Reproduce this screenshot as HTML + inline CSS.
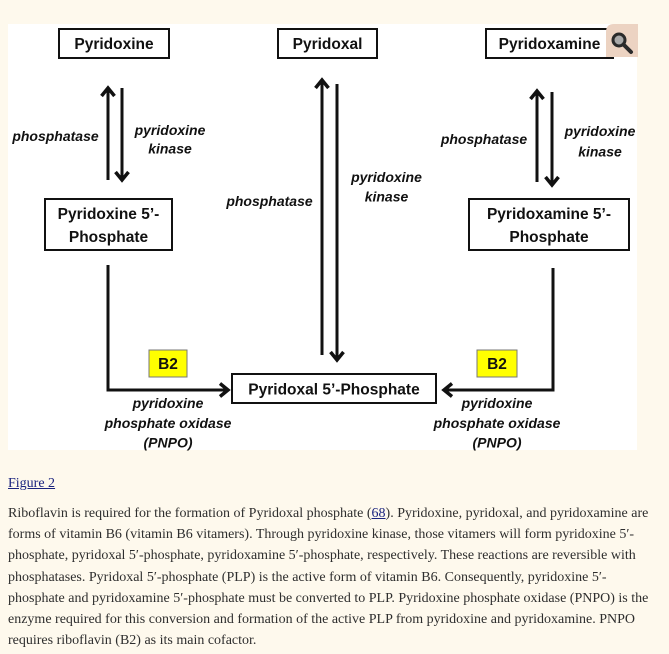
<!DOCTYPE html>
<html>
<head>
<meta charset="utf-8">
<style>
  html, body { margin:0; padding:0; }
  body { width:669px; height:654px; background:#fef9ed; position:relative; overflow:hidden; font-family:"Liberation Serif", serif; }
  svg { position:absolute; left:0; top:0; }
  .cap { position:absolute; left:8px; top:473px; font-size:14px; line-height:21px; color:#1a237e; text-decoration:underline; }
  .para { position:absolute; left:8px; top:503px; font-size:14px; line-height:21.2px; color:#2e2e2e; white-space:nowrap; }
  .para a { color:#1a237e; text-decoration:underline; }
</style>
</head>
<body>
<svg width="669" height="460" viewBox="0 0 669 460" xmlns="http://www.w3.org/2000/svg">
  <rect x="8" y="24" width="629" height="426" fill="#ffffff"/>
  <g fill="none" stroke="#111" stroke-width="2">
    <rect x="59" y="29" width="110" height="29"/>
    <rect x="278" y="29" width="99" height="29"/>
    <rect x="486" y="29" width="127" height="29"/>
    <rect x="45" y="199" width="127" height="51"/>
    <rect x="469" y="199" width="160" height="51"/>
    <rect x="232" y="374" width="204" height="29"/>
  </g>
  <g fill="none" stroke="#111" stroke-width="3" stroke-linejoin="miter">
    <line x1="108" y1="89" x2="108" y2="180"/>
    <line x1="122" y1="88" x2="122" y2="179"/>
    <line x1="322" y1="81" x2="322" y2="355"/>
    <line x1="337" y1="84" x2="337" y2="359"/>
    <line x1="537" y1="92" x2="537" y2="182"/>
    <line x1="552" y1="92" x2="552" y2="184"/>
    <polyline points="108,265 108,390 228,390"/>
    <polyline points="553,268 553,390 444,390"/>
  </g>
  <g fill="none" stroke="#111" stroke-width="3.5" stroke-linejoin="miter">
    <polyline points="101.5,96 108,88 114.5,96"/>
    <polyline points="115.5,172 122,180 128.5,172"/>
    <polyline points="315.5,88 322,80 328.5,88"/>
    <polyline points="330.5,352 337,360 343.5,352"/>
    <polyline points="530.5,99 537,91 543.5,99"/>
    <polyline points="545.5,177 552,185 558.5,177"/>
    <polyline points="220,383.5 228,390 220,396.5"/>
    <polyline points="452,383.5 444,390 452,396.5"/>
  </g>
  <rect x="149" y="350" width="38" height="27" fill="#ffff00" stroke="#777" stroke-width="1"/>
  <rect x="477" y="350" width="40" height="27" fill="#ffff00" stroke="#777" stroke-width="1"/>
  <g font-family="Liberation Sans, sans-serif" font-weight="bold" font-size="15.5" fill="#111" text-anchor="middle">
    <text x="114" y="49">Pyridoxine</text>
    <text x="327.5" y="49">Pyridoxal</text>
    <text x="549.5" y="49">Pyridoxamine</text>
    <text x="108.5" y="219">Pyridoxine 5’-</text>
    <text x="108.5" y="242">Phosphate</text>
    <text x="549" y="219">Pyridoxamine 5’-</text>
    <text x="549" y="242">Phosphate</text>
    <text x="334" y="394.5">Pyridoxal 5’-Phosphate</text>
    <text x="168" y="369" font-size="15.5">B2</text>
    <text x="497" y="369" font-size="15.5">B2</text>
  </g>
  <g font-family="Liberation Sans, sans-serif" font-weight="bold" font-style="italic" font-size="14" fill="#111" text-anchor="middle">
    <text x="55.5" y="141">phosphatase</text>
    <text x="170" y="135">pyridoxine</text>
    <text x="170" y="153.5">kinase</text>
    <text x="269.5" y="206">phosphatase</text>
    <text x="386.5" y="182">pyridoxine</text>
    <text x="386.5" y="201.5">kinase</text>
    <text x="484" y="144">phosphatase</text>
    <text x="600" y="136">pyridoxine</text>
    <text x="600" y="156.5">kinase</text>
    <text x="168" y="408">pyridoxine</text>
    <text x="168" y="428">phosphate oxidase</text>
    <text x="168" y="447.5">(PNPO)</text>
    <text x="497" y="408">pyridoxine</text>
    <text x="497" y="428">phosphate oxidase</text>
    <text x="497" y="447.5">(PNPO)</text>
  </g>
  <path d="M614,24 H638 V57 H606 V32 Q606,24 614,24 Z" fill="#ecd3c2"/>
  <circle cx="619" cy="40" r="6" fill="#a9a9a9" stroke="#2a2a2a" stroke-width="3"/>
  <line x1="623.5" y1="44.5" x2="631" y2="52" stroke="#2a2a2a" stroke-width="4" stroke-linecap="round"/>
</svg>
<div class="cap">Figure 2</div>
<div class="para">Riboflavin is required for the formation of Pyridoxal phosphate (<a>68</a>). Pyridoxine, pyridoxal, and pyridoxamine are<br>forms of vitamin B6 (vitamin B6 vitamers). Through pyridoxine kinase, those vitamers will form pyridoxine 5′-<br>phosphate, pyridoxal 5′-phosphate, pyridoxamine 5′-phosphate, respectively. These reactions are reversible with<br>phosphatases. Pyridoxal 5′-phosphate (PLP) is the active form of vitamin B6. Consequently, pyridoxine 5′-<br>phosphate and pyridoxamine 5′-phosphate must be converted to PLP. Pyridoxine phosphate oxidase (PNPO) is the<br>enzyme required for this conversion and formation of the active PLP from pyridoxine and pyridoxamine. PNPO<br>requires riboflavin (B2) as its main cofactor.</div>
</body>
</html>
